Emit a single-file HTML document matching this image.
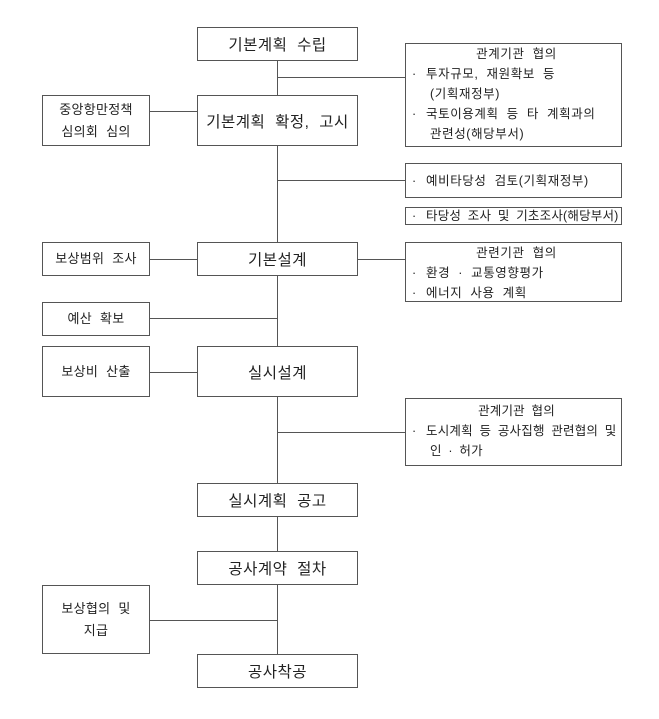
<!DOCTYPE html>
<html><head><meta charset="utf-8">
<style>
html,body{margin:0;padding:0;background:#fff;}
body{width:659px;height:719px;position:relative;overflow:hidden;font-family:"Liberation Sans","Noto Sans CJK KR","NanumGothic",sans-serif;color:#222;}
.b{position:absolute;box-sizing:border-box;border:1px solid #555;background:#fff;display:flex;align-items:center;justify-content:center;text-align:center;}
.c{font-size:15.5px;word-spacing:5px;letter-spacing:0.5px;}
.l{font-size:13px;line-height:22px;word-spacing:4px;letter-spacing:0.3px;}
.r{font-size:12.5px;line-height:20px;display:block;text-align:left;padding-left:6px;word-spacing:4px;letter-spacing:0.6px;}
.r .t{text-align:center;}
.r .i{padding-left:18px;}
.r .bl{display:inline-block;width:14px;}
.h{position:absolute;height:1px;background:#555;}
.v{position:absolute;width:1px;background:#555;}
</style></head><body>
<div class="v" style="left:277px;top:61px;height:594px;"></div>

<div class="b c" style="left:197px;top:27px;width:161px;height:34px;">기본계획 수립</div>
<div class="b c" style="left:197px;top:95px;width:161px;height:51px;">기본계획 확정, 고시</div>
<div class="b c" style="left:197px;top:242px;width:161px;height:34px;">기본설계</div>
<div class="b c" style="left:197px;top:346px;width:161px;height:51px;">실시설계</div>
<div class="b c" style="left:197px;top:483px;width:161px;height:34px;">실시계획 공고</div>
<div class="b c" style="left:197px;top:551px;width:161px;height:34px;">공사계약 절차</div>
<div class="b c" style="left:197px;top:654px;width:161px;height:34px;">공사착공</div>

<div class="b l" style="left:42px;top:95px;width:108px;height:51px;">중앙항만정책<br>심의회 심의</div>
<div class="b l" style="left:42px;top:242px;width:108px;height:34px;">보상범위 조사</div>
<div class="b l" style="left:42px;top:302px;width:108px;height:34px;">예산 확보</div>
<div class="b l" style="left:42px;top:346px;width:108px;height:51px;">보상비 산출</div>
<div class="b l" style="left:42px;top:585px;width:108px;height:69px;">보상협의 및<br>지급</div>

<div class="h" style="left:150px;top:111px;width:47px;"></div>
<div class="h" style="left:150px;top:259px;width:47px;"></div>
<div class="h" style="left:150px;top:318px;width:127px;"></div>
<div class="h" style="left:150px;top:372px;width:47px;"></div>
<div class="h" style="left:150px;top:620px;width:127px;"></div>

<div class="h" style="left:277px;top:77px;width:128px;"></div>
<div class="h" style="left:277px;top:180px;width:128px;"></div>
<div class="h" style="left:358px;top:259px;width:47px;"></div>
<div class="h" style="left:277px;top:432px;width:128px;"></div>

<div class="b r" style="left:405px;top:43px;width:217px;height:104px;">
<div class="t">관계기관 협의</div>
<div><span class="bl">·</span>투자규모, 재원확보 등</div>
<div class="i">(기획재정부)</div>
<div><span class="bl">·</span>국토이용계획 등 타 계획과의</div>
<div class="i">관련성(해당부서)</div>
</div>
<div class="b r" style="left:405px;top:163px;width:217px;height:35px;display:flex;justify-content:flex-start;"><span class="bl">·</span>예비타당성 검토(기획재정부)</div>
<div class="b r" style="left:405px;top:207px;width:217px;height:18px;line-height:16px;letter-spacing:0.2px;word-spacing:3px;"><span class="bl">·</span>타당성 조사 및 기초조사(해당부서)</div>
<div class="b r" style="left:405px;top:242px;width:217px;height:60px;">
<div class="t">관련기관 협의</div>
<div><span class="bl">·</span>환경 · 교통영향평가</div>
<div><span class="bl">·</span>에너지 사용 계획</div>
</div>
<div class="b r" style="left:405px;top:398px;width:217px;height:68px;padding-top:2px;letter-spacing:0.2px;word-spacing:3px;">
<div class="t">관계기관 협의</div>
<div><span class="bl">·</span>도시계획 등 공사집행 관련협의 및</div>
<div class="i">인 · 허가</div>
</div>
</body></html>
